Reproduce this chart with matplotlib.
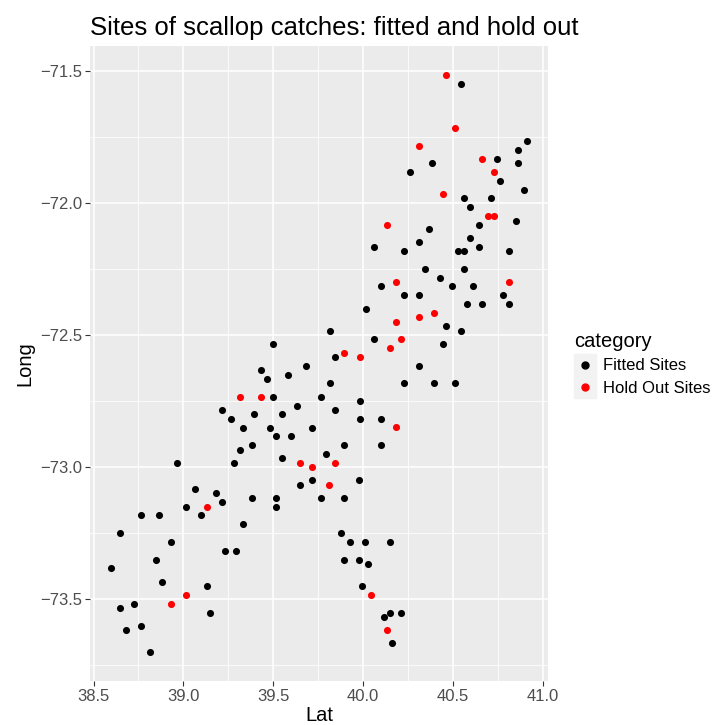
import matplotlib
matplotlib.use("Agg")
import matplotlib.pyplot as plt
from matplotlib.lines import Line2D
from matplotlib.ticker import MultipleLocator, FuncFormatter

plt.rcParams['font.family'] = ['Liberation Sans', 'DejaVu Sans']

# Fitted sites (lat, long)
fit_lat = [40.547, 40.913, 40.863, 40.746, 40.863, 40.382, 40.262, 40.763, 40.898, 40.563,
           40.713, 40.597, 40.848, 40.647, 40.364, 40.597, 40.312, 40.062, 40.230, 40.528,
           40.563, 40.647, 40.813, 40.347, 40.563, 40.430, 40.097, 40.497, 40.613, 40.230,
           40.312, 40.780, 40.580, 40.663, 40.813, 40.014, 40.464, 39.814, 40.547, 40.062,
           40.447, 39.846, 40.312, 39.814, 40.230, 40.397, 40.513, 39.763, 39.981, 39.846,
           39.981, 40.097, 39.896, 40.097, 39.796, 39.497, 39.680, 39.430, 39.580, 39.463,
           39.497, 39.630, 39.214, 39.264, 39.395, 39.547, 39.330, 39.480, 39.713, 39.513,
           39.597, 39.380, 39.314, 38.965, 39.280, 39.547, 39.646, 39.713, 39.062, 39.181,
           39.214, 39.012, 39.096, 38.763, 38.863, 39.380, 39.513, 39.513, 39.763, 39.330,
           38.646, 38.929, 39.229, 39.295, 38.846, 38.596, 38.879, 39.129, 38.727, 38.646,
           39.146, 38.763, 38.678, 38.813, 39.979, 39.896, 39.879, 39.929, 40.012, 40.147,
           39.896, 39.979, 40.029, 39.996, 40.115, 40.147, 40.212, 40.162]
fit_long = [-71.550, -71.766, -71.800, -71.834, -71.851, -71.851, -71.884, -71.917, -71.951, -71.983,
            -71.983, -72.018, -72.068, -72.083, -72.101, -72.134, -72.150, -72.167, -72.183, -72.183,
            -72.183, -72.167, -72.183, -72.250, -72.250, -72.284, -72.317, -72.317, -72.317, -72.351,
            -72.351, -72.351, -72.384, -72.384, -72.384, -72.401, -72.468, -72.485, -72.485, -72.517,
            -72.535, -72.585, -72.619, -72.684, -72.684, -72.684, -72.684, -72.735, -72.751, -72.785,
            -72.818, -72.818, -72.918, -72.918, -72.951, -72.534, -72.619, -72.635, -72.652, -72.668,
            -72.735, -72.769, -72.785, -72.818, -72.801, -72.801, -72.852, -72.852, -72.852, -72.885,
            -72.885, -72.918, -72.936, -72.985, -72.985, -72.968, -73.068, -73.052, -73.084, -73.101,
            -73.135, -73.151, -73.184, -73.184, -73.184, -73.118, -73.118, -73.151, -73.118, -73.218,
            -73.251, -73.285, -73.318, -73.318, -73.352, -73.385, -73.436, -73.452, -73.519, -73.535,
            -73.553, -73.602, -73.620, -73.702, -73.052, -73.118, -73.251, -73.285, -73.285, -73.285,
            -73.352, -73.352, -73.369, -73.452, -73.568, -73.552, -73.552, -73.669]

# Hold out sites (lat, long)
hold_lat = [40.464, 40.513, 40.312, 40.663, 40.730, 40.447, 40.696, 40.730, 40.131, 40.181,
            40.813, 40.397, 40.312, 40.181, 40.212, 40.147, 39.896, 39.981, 40.181, 39.846,
            39.314, 39.430, 39.646, 39.713, 39.812, 39.129, 39.012, 38.929, 40.046, 40.131]
hold_long = [-71.516, -71.717, -71.784, -71.834, -71.884, -71.967, -72.050, -72.050, -72.083, -72.300,
             -72.300, -72.418, -72.434, -72.451, -72.517, -72.552, -72.568, -72.585, -72.851, -72.985,
             -72.735, -72.735, -72.985, -73.001, -73.068, -73.151, -73.485, -73.519, -73.485, -73.619]

fig = plt.figure(figsize=(7.15, 7.25), dpi=100)
ax = fig.add_axes([90 / 715, 1 - 681 / 725, (548 - 90) / 715, (681 - 46) / 725])
ax.set_facecolor('#EBEBEB')

ax.scatter(fit_lat, fit_long, s=26, color='black', linewidths=0, zorder=3)
ax.scatter(hold_lat, hold_long, s=26, color='red', linewidths=0, zorder=3)
ax.margins(0.05)

fmt = FuncFormatter(lambda v, p: ('%.1f' % v).replace('-', '\u2212'))
ax.xaxis.set_major_locator(MultipleLocator(0.5))
ax.xaxis.set_minor_locator(MultipleLocator(0.25))
ax.yaxis.set_major_locator(MultipleLocator(0.5))
ax.yaxis.set_minor_locator(MultipleLocator(0.25))
ax.xaxis.set_major_formatter(fmt)
ax.yaxis.set_major_formatter(fmt)
ax.grid(which='major', color='white', linewidth=1.1)
ax.grid(which='minor', color='white', linewidth=0.55)
ax.set_axisbelow(True)
for s in ax.spines.values():
    s.set_visible(False)
ax.tick_params(which='major', length=3.5, width=0.8, color='#333333',
               labelcolor='#4D4D4D', labelsize=12, pad=2)
ax.tick_params(which='minor', length=0)

ax.set_xlabel('Lat', fontsize=14.5, labelpad=2)
ax.set_ylabel('Long', fontsize=14.5, labelpad=4)
ax.set_title('Sites of scallop catches: fitted and hold out', loc='left',
             fontsize=18.5, pad=8)

# legend keys with grey background
bg = Line2D([], [], marker='s', markersize=16, color='#F2F2F2', linestyle='none')
h_fit = (bg, Line2D([], [], marker='o', markersize=5, color='black', linestyle='none'))
h_hold = (bg, Line2D([], [], marker='o', markersize=5, color='red', linestyle='none'))
fig.legend([h_fit, h_hold], ['Fitted Sites', 'Hold Out Sites'], title='category',
           loc='center left', bbox_to_anchor=(566 / 715, 1 - 364 / 725), frameon=False,
           fontsize=12, title_fontsize=14.5, handlelength=1.3, handletextpad=0.4,
           labelspacing=0.45, borderpad=0, alignment='left')

fig.savefig('out.png', dpi=100)
